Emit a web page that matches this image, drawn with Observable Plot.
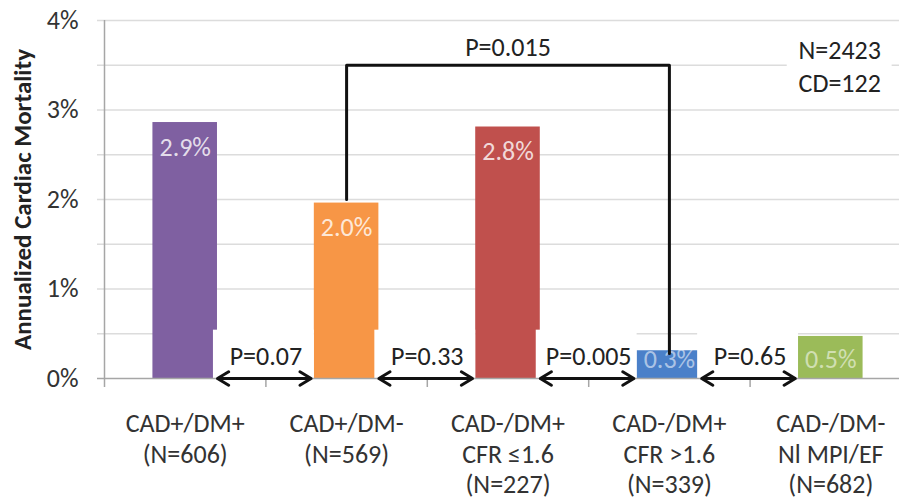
<!DOCTYPE html>
<html><head><meta charset="utf-8">
<script src="https://cdn.jsdelivr.net/npm/d3@7"></script>
<script src="https://cdn.jsdelivr.net/npm/@observablehq/plot@0.6"></script>
<style>
html,body{margin:0;padding:0;background:#fff;}
</style>
</head><body><div id="chart"></div>
<script>
const groups = ["CAD+/DM+", "CAD+/DM-", "CAD-/DM+\nCFR ≤1.6", "CAD-/DM+\nCFR >1.6", "CAD-/DM-\nNl MPI/EF"];
const groupN = [606, 569, 227, 339, 682];
const mortality = [2.86, 1.96, 2.81, 0.31, 0.47];
const valueLabels = ["2.9%", "2.0%", "2.8%", "0.3%", "0.5%"];
const barColors = ["#7f60a1", "#f79646", "#c0504d", "#4a80c9", "#9bbb59"];
const pairP = ["P=0.07", "P=0.33", "P=0.005", "P=0.65"];
const bracketGroups = [1, 3];
const bracketLevel = [3.5];
const bracketP = ["P=0.015"];
const totals = ["N=2423", "CD=122"];
const yTicks = [0, 1, 2, 3, 4];
const yTickLabels = ["0%", "1%", "2%", "3%", "4%"];
const yGrid = [0.5, 1, 1.5, 2, 2.5, 3, 3.5, 4];

const FONT = "Carlito, Lato, 'Open Sans', sans-serif";
const FS = 26;
const bars = groups.map((g, i) => ({i, g, n: groupN[i], v: mortality[i], label: valueLabels[i], color: barColors[i]}));
const pairs = pairP.map((p, i) => ({i, p, mid: i + 0.49, left: i + 0.2, right: i + 0.78}));
const boundaries = d3.range(groups.length + 1).map(k => k - 0.5);
const [bFrom, bTo] = bracketGroups;
const bracketPts = [
  {x: bFrom, y: mortality[bFrom] + 0.04},
  {x: bFrom, y: bracketLevel[0]},
  {x: bTo, y: bracketLevel[0]},
  {x: bTo, y: mortality[bTo] - 0.03}
];
const arrowOpts = {y1: 0, y2: 0, stroke: "#111", strokeWidth: 3, headLength: 6.5, headAngle: 62, insetStart: 0, insetEnd: 0};

const chart = Plot.plot({
  width: 899,
  height: 499,
  marginLeft: 104,
  marginRight: 0,
  marginTop: 20,
  marginBottom: 121,
  style: {fontFamily: FONT, background: "#fff", overflow: "visible"},
  x: {domain: [-0.5, 4.5], range: [104, 911], axis: null},
  y: {domain: [0, 4], range: [378, 20], axis: null},
  color: {type: "identity"},
  marks: [
    Plot.ruleY(yGrid, {stroke: "#dcdcdc", strokeWidth: 1.5, insetLeft: -7}),
    Plot.rectY(bars, {x1: d => d.i - 0.2, x2: d => d.i + 0.2, y: "v", fill: "color"}),
    Plot.rect(pairs, {x1: d => d.i + 0.175, x2: d => d.i + 0.8, y1: 0, y2: 0.54, fill: "white"}),
    Plot.rect([totals], {x1: 3.73, x2: 4.38, y1: 3.15, y2: 3.88, fill: "white"}),
    Plot.ruleY([0], {stroke: "#a6a6a6", strokeWidth: 1.5, insetLeft: -7}),
    Plot.ruleX([-0.5], {y1: 0, y2: 4, stroke: "#a6a6a6", strokeWidth: 1.5}),
    Plot.ruleX(boundaries, {x: d => d, y1: 0, y2: 0, insetBottom: -9, stroke: "#a6a6a6", strokeWidth: 1.5}),
    Plot.text(yTicks, {x: -0.5, y: d => d, text: (d, i) => yTickLabels[i], textAnchor: "end", dx: -26, fontSize: FS, fill: "#333"}),
    Plot.text(["Annualized Cardiac Mortality"], {frameAnchor: "left", textAnchor: "middle", dx: -82, rotate: -90, fontSize: 25, fontWeight: "bold", fill: "#222"}),
    Plot.text(bars, {x: "i", y: 0, text: d => `${d.g}\n(N=${d.n})`, lineAnchor: "top", dy: 32, fontSize: FS, lineHeight: 1.17, fill: "#333"}),
    Plot.text(bars.filter(d => d.v > 1), {x: "i", y: "v", text: "label", dy: 25, fontSize: FS, fill: "white", fillOpacity: 0.8}),
    Plot.text(bars.filter(d => d.v <= 1), {x: "i", y: 0, text: "label", dy: -19, fontSize: FS, fill: "white", fillOpacity: 0.55}),
    Plot.line(bracketPts, {x: "x", y: "y", stroke: "#111", strokeWidth: 3}),
    Plot.text(bracketP, {x: (bFrom + bTo) / 2, y: 3.7, text: d => d, fontSize: FS, fill: "#222"}),
    Plot.arrow(pairs, {x1: "mid", x2: "left", ...arrowOpts}),
    Plot.arrow(pairs, {x1: "mid", x2: "right", ...arrowOpts}),
    Plot.text(pairs, {x: d => d.i + 0.5, y: 0.245, text: "p", fontSize: FS, fill: "#222"}),
    Plot.text([totals.join("\n")], {x: 3.8, y: 3.5, text: d => d, textAnchor: "start", lineHeight: 1.25, fontSize: FS, fill: "#222"})
  ]
});
document.getElementById("chart").appendChild(chart);
</script>
</body></html>
